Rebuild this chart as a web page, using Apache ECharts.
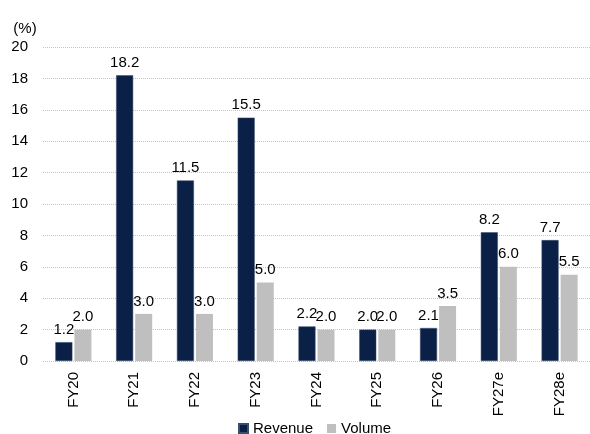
<!DOCTYPE html>
<html><head><meta charset="utf-8">
<script src="https://cdn.jsdelivr.net/npm/echarts@6/dist/echarts.min.js"></script>
<style>html,body{margin:0;padding:0;background:#fff}#c{width:590px;height:434px}</style>
</head><body><div id="c"></div>
<script>
const categories = ['FY20','FY21','FY22','FY23','FY24','FY25','FY26','FY27e','FY28e'];
const revenue = [1.2, 18.2, 11.5, 15.5, 2.2, 2.0, 2.1, 8.2, 7.7];
const volume = [2.0, 3.0, 3.0, 5.0, 2.0, 2.0, 3.5, 6.0, 5.5];
const yTicks = [0, 2, 4, 6, 8, 10, 12, 14, 16, 18, 20];

const font = '"Liberation Sans", Arial, sans-serif';
const fs = 15;
const chart = echarts.init(document.getElementById('c'));
const lbl = {show: true, position: 'top', distance: 5, color: '#000', fontFamily: font, fontSize: fs,
  formatter: p => p.value.toFixed(1)};
chart.setOption({
  animation: false,
  grid: {left: 43, right: -8, top: 47, bottom: 73, containLabel: false},
  legend: {top: 421, left: 238, padding: 0, itemWidth: 9, itemHeight: 9, itemGap: 14,
    icon: 'rect', textStyle: {fontFamily: font, fontSize: fs, color: '#000'},
    data: ['Revenue', 'Volume']},
  xAxis: {type: 'category', data: categories,
    axisLine: {show: false}, axisTick: {show: false},
    axisLabel: {rotate: 90, fontFamily: font, fontSize: fs, color: '#000', margin: 11}},
  yAxis: {type: 'value', min: yTicks[0], max: yTicks[yTicks.length-1], interval: 2,
    name: '(%)', nameLocation: 'end', nameGap: 11,
    nameTextStyle: {fontFamily: font, fontSize: fs, color: '#000', align: 'center', padding: [0, 0, 0, -36]},
    axisLine: {show: false}, axisTick: {show: false},
    axisLabel: {fontFamily: font, fontSize: fs, color: '#000', margin: 15},
    splitLine: {show: true, lineStyle: {color: '#c4c4c4', type: [1, 1], width: 1}}},
  series: [
    {name: 'Revenue', type: 'bar', data: revenue, barWidth: 17, barGap: '12%',
      itemStyle: {color: '#0a2046', borderColor: '#3b4d6b', borderWidth: 0.5}, label: lbl},
    {name: 'Volume', type: 'bar', data: volume, barWidth: 17,
      itemStyle: {color: '#bfbfbf'}, label: lbl}
  ]
});
</script></body></html>
